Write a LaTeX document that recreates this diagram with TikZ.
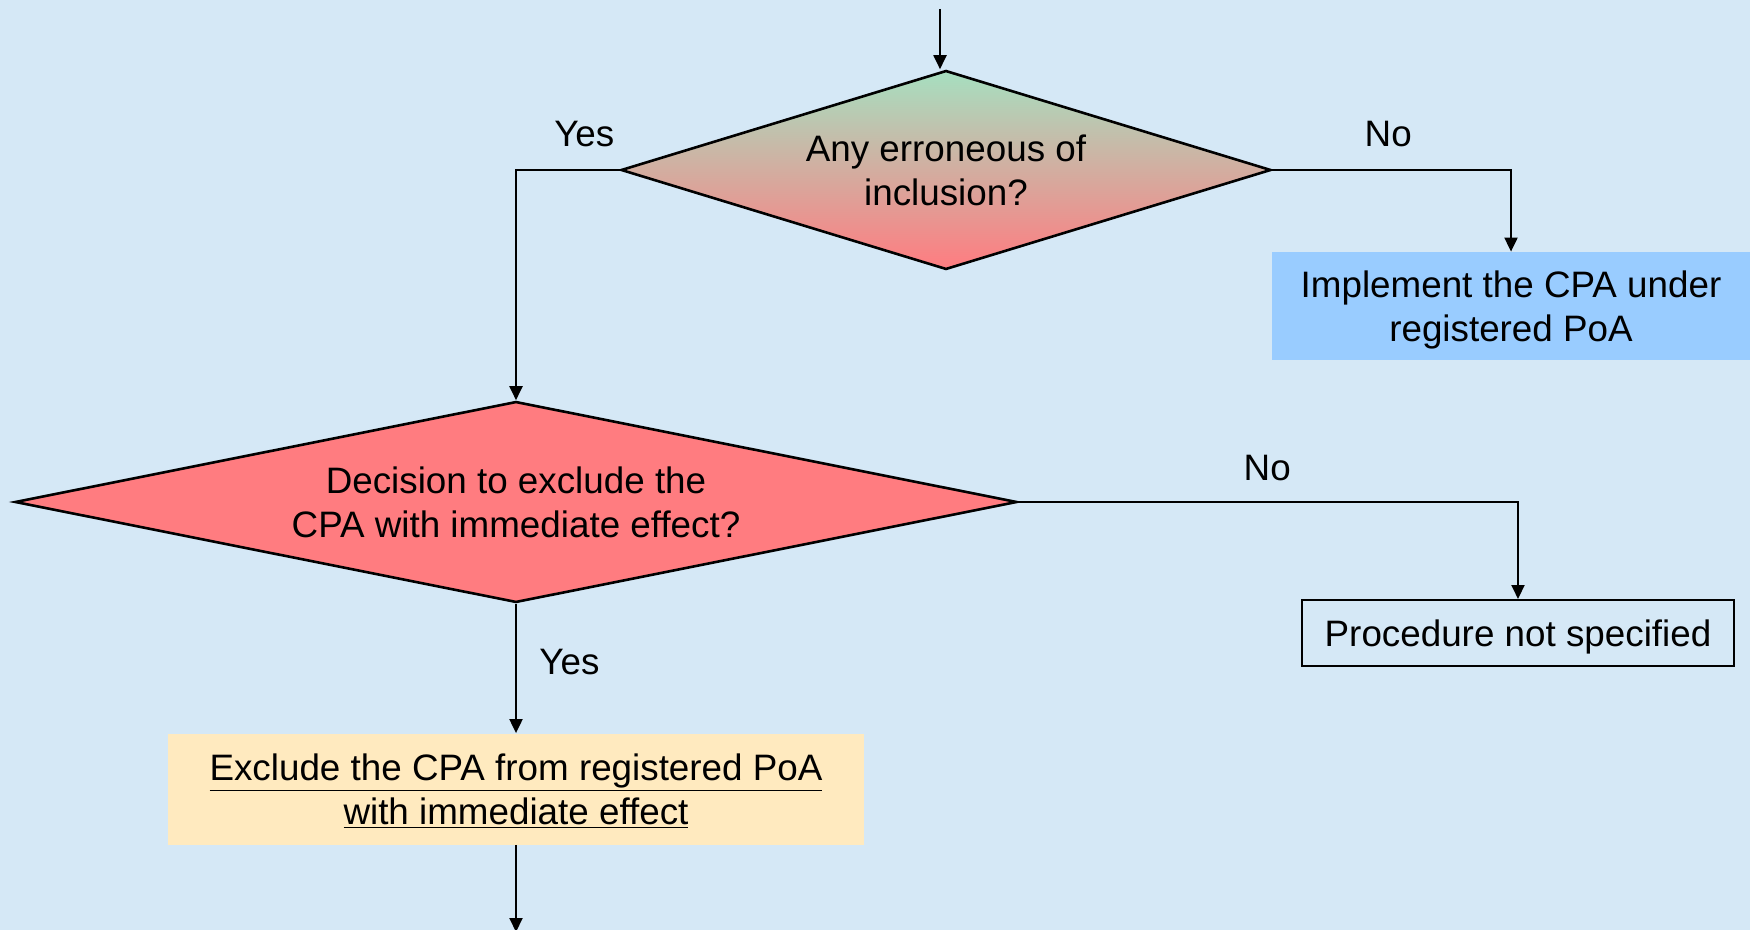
\documentclass[tikz,border=0pt]{standalone}
\usepackage{fontspec}
\setmainfont{Liberation Sans}
\usetikzlibrary{shapes.geometric, positioning, arrows.meta}
\definecolor{bgblue}{HTML}{D5E8F6}
\definecolor{decgreen}{HTML}{A6DFC0}
\definecolor{decred}{HTML}{FF7C80}
\definecolor{implblue}{HTML}{99CCFF}
\definecolor{exclyellow}{HTML}{FFEABF}
\tikzset{
  decision/.style={diamond, draw, line width=1.3pt, inner sep=0pt, align=center, text depth=0pt},
  stepbox/.style={rectangle, inner sep=0pt, align=center, text depth=0pt},
  lbl/.style={inner sep=0pt},
  arr/.style={line width=1pt, -{Triangle[length=7pt,width=6.5pt]}},
}
\begin{document}
\begin{tikzpicture}[x=0.5pt, y=-0.5pt, font=\fontsize{18.4pt}{22.3pt}\selectfont]
\fill[bgblue] (0,0) rectangle (1750,930);
\useasboundingbox (0,0) rectangle (1750,930);
%decisions
\node[decision, top color=decgreen, bottom color=decred, minimum width=325pt, minimum height=99.5pt, shape aspect=3.27] (err) at (946,170) {Any erroneous of\\inclusion?};
\node[decision, fill=decred, minimum width=501pt, minimum height=100.5pt, shape aspect=5] (excdec) at (516,502) {Decision to exclude the\\CPA with immediate effect?};
%boxes
\node[stepbox, fill=implblue, minimum width=239pt, minimum height=54pt] (impl) at (1511,306) {Implement the CPA under\\registered PoA};
\node[stepbox, draw, line width=1pt, minimum width=216pt, minimum height=33pt] (proc) at (1518,633) {Procedure not specified};
\node[stepbox, fill=exclyellow, minimum width=348pt, minimum height=55.5pt] (excl) at (516,789) {\underline{Exclude the CPA from registered PoA}\\\underline{with immediate effect}};
\coordinate (start) at (940,9);
\coordinate (end) at (516,932);
%connectors
\draw[arr] (start) -- (start |- err.north);
\draw[arr] (err.west) -| (excdec.north);
\draw[arr] (err.east) -| (impl.north);
\draw[arr] (excdec.east) -| (proc.north);
\draw[arr] (excdec.south) -- (excl.north);
\draw[arr] (excl.south) -- (end);
%labels
\node[lbl, above left=11.5pt and 2.5pt of err.west] (yes1) {Yes};
\node[lbl, above right=11.5pt and 46pt of err.east] (no1) {No};
\node[lbl, above right=10.5pt and 112.5pt of excdec.east] (no2) {No};
\node[lbl, below right=22.5pt and 11.5pt of excdec.south] (yes2) {Yes};
\end{tikzpicture}
\end{document}
